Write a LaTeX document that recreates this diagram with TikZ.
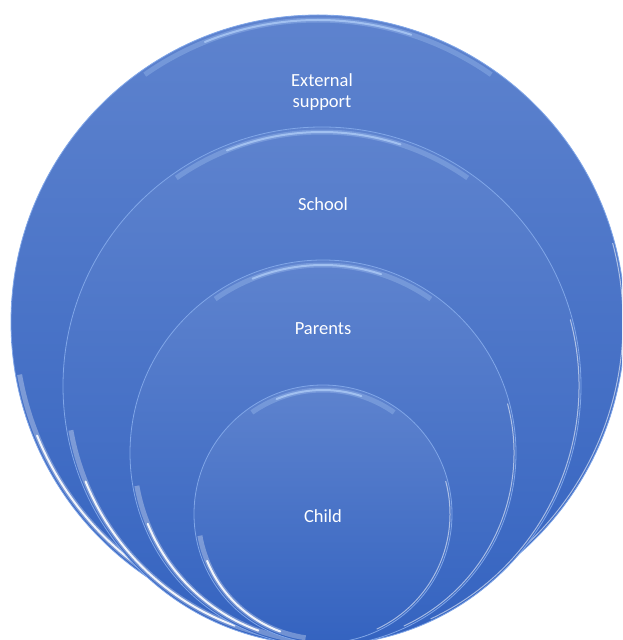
\documentclass[tikz,border=0pt]{standalone}
\usepackage{fontspec}
\setmainfont{Carlito}
\usetikzlibrary{positioning}

\definecolor{ringtop}{RGB}{94,131,206}
\definecolor{ringbot}{RGB}{52,99,192}
\definecolor{ringrim}{RGB}{128,166,232}
\definecolor{gleam}{RGB}{176,206,248}

\tikzset{
	ring/.style={circle, inner sep=0pt, top color=ringtop, bottom color=ringbot, draw=ringrim, line width=0.8pt},
	toplight/.style={gleam, line width=5pt, opacity=0.3},
	topcore/.style={gleam, line width=2pt, opacity=0.75, line cap=round},
	sidelight/.style={white, line width=5pt, opacity=0.3},
	sidecore/.style={white, line width=2pt, opacity=0.9, line cap=round},
	thinlight/.style={white, line width=1pt, opacity=0.55},
	lbl/.style={text=white, font=\fontsize{18.5}{21}\selectfont, align=center}
}

\begin{document}
\begin{tikzpicture}[x=1pt, y=1pt]
			\useasboundingbox (0,0) rectangle (622,640);
			\clip (0,0) rectangle (622,640);
			% rings, largest first
			\foreach \nm/\cx/\cy/\r in {outer/318/318/307, school/322/254/259, parents/323/187/193, child/323/126/129} {
				\node[ring, minimum size=2*\r pt] (\nm) at (\cx,\cy) {};
				\draw[toplight] (\nm.center) ++(55:\r-5) arc (55:125:\r-5);
				\draw[topcore] (\nm.center) ++(72:\r-5) arc (72:112:\r-5);
				\draw[sidelight] (\nm.center) ++(190:\r-4) arc (190:262:\r-4);
				\draw[sidecore] (\nm.center) ++(202:\r-4) arc (202:250:\r-4);
				\draw[thinlight] (\nm.center) ++(-65:\r-2) arc (-65:15:\r-2);
			}
			\node[lbl] (extlbl) at (322,548) {External\\support};
			\node[lbl] (schoollbl) at (323,436) {School};
			\node[lbl] (parentslbl) at (323,311) {Parents};
			\node[lbl] (childlbl) at (323,124) {Child};
		\end{tikzpicture}
\end{document}
